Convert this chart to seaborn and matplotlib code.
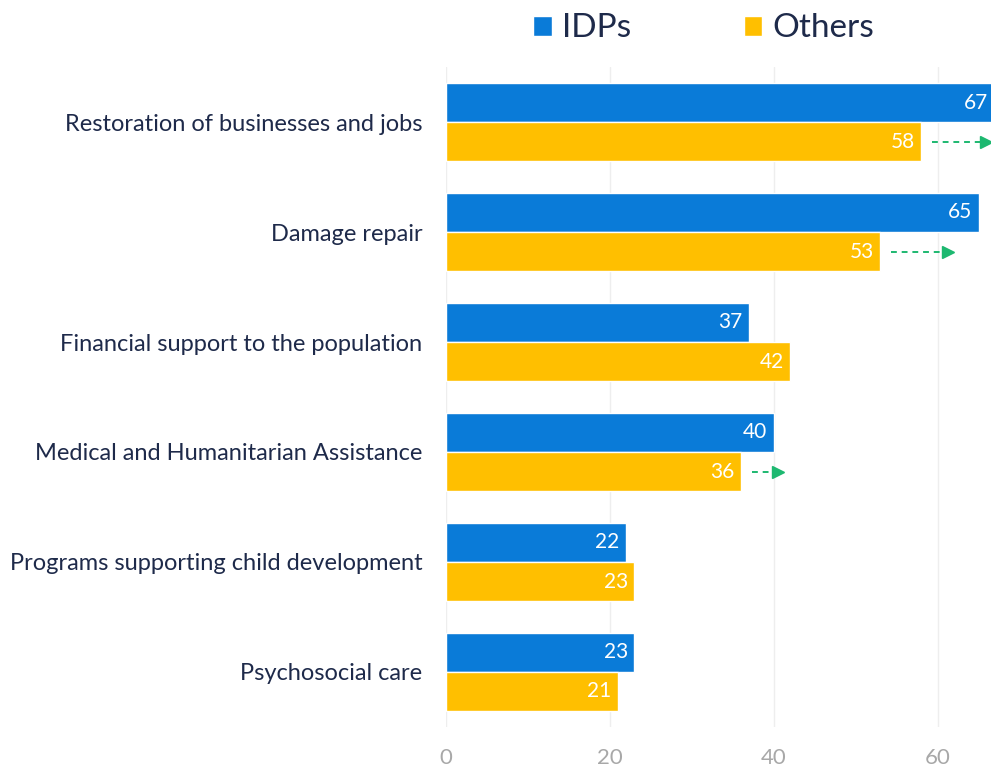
import matplotlib
matplotlib.use("Agg")
import matplotlib.pyplot as plt
import seaborn as sns
import pandas as pd
from matplotlib.patches import Patch

categories = [
    "Restoration of businesses and jobs",
    "Damage repair",
    "Financial support to the population",
    "Medical and Humanitarian Assistance",
    "Programs supporting child development",
    "Psychosocial care",
]
idps = [67, 65, 37, 40, 22, 23]
others = [58, 53, 42, 36, 23, 21]
arrow_targets = [66.5, 61.8, None, 41.1, None, None]
groups = ["IDPs", "Others"]
xticks = [0, 20, 40, 60]

blue = "#0A7BD8"
yellow = "#FFBF00"
green = "#1DB870"
navy = "#1E2A4A"

df = pd.DataFrame({
    "category": categories * 2,
    "value": idps + others,
    "group": [groups[0]] * len(categories) + [groups[1]] * len(categories),
})

sns.set_theme(style="white")
plt.rcParams["font.family"] = ["Lato", "DejaVu Sans"]

fig = plt.figure(figsize=(9.91, 7.67), dpi=100)
ax = fig.add_axes([0.450, 0.0522, 0.550, 0.8604])

sns.barplot(data=df, y="category", x="value", hue="group", orient="h",
            palette=[blue, yellow], width=0.71, gap=0, dodge=True,
            saturation=1, legend=False, ax=ax)

ax.set_xlim(0, 66.5)
ax.set_ylim(5.5, -0.5)
ax.set_xticks(xticks)
ax.set_xticklabels([str(t) for t in xticks])
ax.tick_params(axis="x", colors="#A8A8A8", labelsize=16, length=0, pad=15)
ax.tick_params(axis="y", colors=navy, labelsize=17, length=0, pad=17)
for lbl in ax.get_yticklabels():
    lbl.set_color(navy)
ax.set_xlabel("")
ax.set_ylabel("")
for s in ax.spines.values():
    s.set_visible(False)
ax.grid(axis="x", color="#EEEEEE", linewidth=1)
ax.set_axisbelow(True)

# value labels
for container in ax.containers:
    for bar in container:
        w = bar.get_width()
        y = bar.get_y() + bar.get_height() / 2
        xpos = min(w, 66.9) - 0.8
        ax.text(xpos, y, f"{int(round(w))}", ha="right", va="center",
                color="white", fontsize=15, clip_on=False)

# green dashed arrows on "Others" bars
h = ax.containers[1]
for bar, tgt in zip(h, arrow_targets):
    if tgt is None:
        continue
    y = bar.get_y() + bar.get_height() / 2
    x0 = bar.get_width() + 1.3
    ax.plot([x0, tgt - 0.6], [y, y], linestyle=(0, (3, 2.5)), color=green,
            linewidth=1.4, clip_on=False)
    ax.plot([tgt - 0.6], [y], marker=">", color=green, markersize=8,
            clip_on=False)

handles = [Patch(facecolor=blue, label=groups[0]),
           Patch(facecolor=yellow, label=groups[1])]
leg = fig.legend(handles=handles, loc="center", bbox_to_anchor=(0.710, 0.963),
                 ncol=2, frameon=False, fontsize=24, handlelength=0.55,
                 handleheight=0.55, handletextpad=0.3, columnspacing=3.4)
for t in leg.get_texts():
    t.set_color(navy)

fig.savefig("out.png", dpi=100)
